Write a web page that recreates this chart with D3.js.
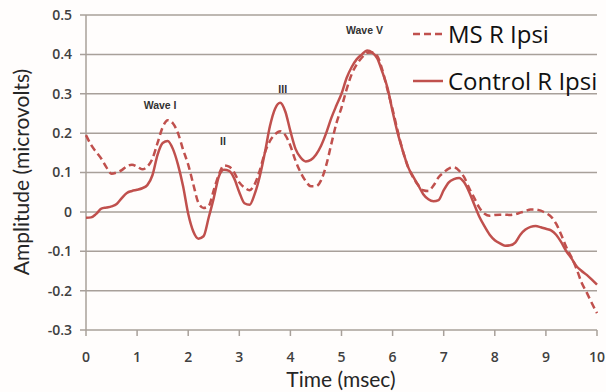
<!DOCTYPE html>
<html>
<head>
<meta charset="utf-8">
<script src="https://cdn.jsdelivr.net/npm/d3@7"></script>
<style>
  html, body { margin: 0; padding: 0; background: #fffdfc; }
  svg { display: block; }
  .tick-label { font-family: "Open Sans", sans-serif; font-size: 14px; font-weight: 600; fill: #404040; }
  .axis-title { font-family: Lato, "Open Sans", sans-serif; font-size: 21px; fill: #262626; }
  .legend-text { font-family: "Open Sans", sans-serif; font-size: 24px; fill: #111; }
  .wave-label { font-family: "Liberation Sans", Arial, sans-serif; font-size: 10.5px; font-weight: bold; fill: #333; }
</style>
</head>
<body>
<div id="chart"></div>
<script>
// time in msec, 0.1 steps
const time = d3.range(0, 101).map(i => i / 10);

// MS R Ipsi (dashed)
const msValues = [
  0.195, 0.17, 0.152, 0.135, 0.113, 0.097, 0.1, 0.106, 0.116, 0.12,
  0.115, 0.108, 0.115, 0.135, 0.175, 0.215, 0.233, 0.225, 0.2, 0.158,
  0.12, 0.07, 0.023, 0.01, 0.015, 0.055, 0.095, 0.118, 0.115, 0.1,
  0.075, 0.062, 0.055, 0.07, 0.105, 0.15, 0.18, 0.197, 0.205, 0.195,
  0.168, 0.13, 0.1, 0.078, 0.065, 0.065, 0.08, 0.118, 0.172, 0.225,
  0.265, 0.311, 0.35, 0.375, 0.392, 0.404, 0.405, 0.396, 0.36, 0.31,
  0.26, 0.205, 0.155, 0.115, 0.088, 0.068, 0.055, 0.053, 0.067, 0.088,
  0.1, 0.11, 0.113, 0.105, 0.088, 0.06, 0.035, 0.01, -0.005, -0.01,
  -0.008, -0.007, -0.007, -0.008, -0.006, -0.002, 0.002, 0.006, 0.006, 0.003,
  -0.003, -0.012, -0.03, -0.058, -0.09, -0.115, -0.145, -0.18, -0.205, -0.232,
  -0.257
];

// Control R Ipsi (solid)
const controlValues = [
  -0.015, -0.014, -0.005, 0.008, 0.011, 0.014, 0.02, 0.035, 0.048, 0.053,
  0.056, 0.06, 0.068, 0.093, 0.145, 0.175, 0.18, 0.16, 0.12, 0.065,
  -0.005, -0.05, -0.068, -0.062, -0.015, 0.035, 0.09, 0.107, 0.104, 0.085,
  0.05, 0.022, 0.018, 0.045, 0.09, 0.15, 0.218, 0.262, 0.277, 0.255,
  0.205, 0.16, 0.138, 0.128, 0.132, 0.145, 0.168, 0.2, 0.238, 0.27,
  0.3, 0.34, 0.368, 0.388, 0.4, 0.41, 0.405, 0.39, 0.355, 0.315,
  0.255, 0.2, 0.155, 0.115, 0.09, 0.068, 0.045, 0.032, 0.027, 0.03,
  0.055, 0.075, 0.083, 0.086, 0.075, 0.05, 0.018, -0.013, -0.037, -0.058,
  -0.072, -0.08, -0.086, -0.085, -0.078, -0.058, -0.045, -0.038, -0.036, -0.039,
  -0.043, -0.047, -0.058, -0.077, -0.1, -0.118, -0.138, -0.15, -0.16, -0.172,
  -0.185
];

const xTicks = [0, 1, 2, 3, 4, 5, 6, 7, 8, 9, 10];
const yTicks = [0.5, 0.4, 0.3, 0.2, 0.1, 0, -0.1, -0.2, -0.3];
const seriesNames = ["MS R Ipsi", "Control R Ipsi"];
const waveLabels = [
  { text: "Wave I", t: 1.45, v: 0.27 },
  { text: "II", t: 2.68, v: 0.18 },
  { text: "III", t: 3.85, v: 0.31 },
  { text: "Wave V", t: 5.45, v: 0.46 }
];

const width = 606, height = 392;
const plotLeft = 86, plotRight = 597, plotTop = 15, plotBottom = 330;
const red = "#c0504d", grid = "#a8a09a";

const svg = d3.select("#chart").append("svg")
  .attr("width", width)
  .attr("height", height);

svg.append("rect").attr("width", width).attr("height", height).attr("fill", "#fffdfc");

const x = d3.scaleLinear().domain([0, 10]).range([plotLeft, plotRight]);
const y = d3.scaleLinear().domain([-0.3, 0.5]).range([plotBottom, plotTop]);

// horizontal gridlines (extend left as tick marks)
svg.append("g").selectAll("line")
  .data(yTicks)
  .enter().append("line")
  .attr("x1", plotLeft - 6)
  .attr("x2", plotRight)
  .attr("y1", d => y(d))
  .attr("y2", d => y(d))
  .attr("stroke", grid)
  .attr("stroke-width", 1.5);

// left axis line
svg.append("line")
  .attr("x1", plotLeft).attr("x2", plotLeft)
  .attr("y1", y(0.5)).attr("y2", y(-0.3))
  .attr("stroke", grid).attr("stroke-width", 1.5);

// x tick marks
svg.append("g").selectAll("line")
  .data(xTicks)
  .enter().append("line")
  .attr("x1", d => x(d)).attr("x2", d => x(d))
  .attr("y1", plotBottom).attr("y2", plotBottom + 6)
  .attr("stroke", grid).attr("stroke-width", 1.5);

// tick labels
svg.append("g").selectAll("text")
  .data(yTicks)
  .enter().append("text")
  .attr("class", "tick-label")
  .attr("x", plotLeft - 14)
  .attr("y", d => y(d))
  .attr("dy", "0.35em")
  .attr("text-anchor", "end")
  .text(d => d === 0 ? "0" : d3.format(".1f")(d).replace("−", "-"));

svg.append("g").selectAll("text")
  .data(xTicks)
  .enter().append("text")
  .attr("class", "tick-label")
  .attr("x", d => x(d))
  .attr("y", 357)
  .attr("dy", "0.35em")
  .attr("text-anchor", "middle")
  .text(d => d);

// axis titles
svg.append("text")
  .attr("class", "axis-title")
  .attr("x", 341).attr("y", 387)
  .attr("text-anchor", "middle")
  .text("Time (msec)");

svg.append("text")
  .attr("class", "axis-title")
  .attr("transform", "translate(29,172) rotate(-90)")
  .attr("text-anchor", "middle")
  .text("Amplitude (microvolts)");

// lines
const line = d3.line()
  .x((d, i) => x(time[i]))
  .y(d => y(d))
  .curve(d3.curveMonotoneX);

svg.append("path")
  .datum(msValues)
  .attr("d", line)
  .attr("fill", "none")
  .attr("stroke", red)
  .attr("stroke-width", 2.5)
  .attr("stroke-dasharray", "7,4");

svg.append("path")
  .datum(controlValues)
  .attr("d", line)
  .attr("fill", "none")
  .attr("stroke", red)
  .attr("stroke-width", 2.5);

// wave annotations
svg.append("g").selectAll("text")
  .data(waveLabels)
  .enter().append("text")
  .attr("class", "wave-label")
  .attr("x", d => x(d.t))
  .attr("y", d => y(d.v))
  .attr("dy", "0.35em")
  .attr("text-anchor", "middle")
  .text(d => d.text);

// legend
const legend = svg.append("g");
legend.append("line")
  .attr("x1", 413).attr("x2", 443).attr("y1", 34).attr("y2", 34)
  .attr("stroke", red).attr("stroke-width", 2.5).attr("stroke-dasharray", "7,4");
legend.append("line")
  .attr("x1", 413).attr("x2", 443).attr("y1", 81).attr("y2", 81)
  .attr("stroke", red).attr("stroke-width", 2.5);
legend.selectAll("text")
  .data(seriesNames)
  .enter().append("text")
  .attr("class", "legend-text")
  .attr("x", 448)
  .attr("y", (d, i) => i === 0 ? 43 : 90)
  .text(d => d);
</script>
</body>
</html>
